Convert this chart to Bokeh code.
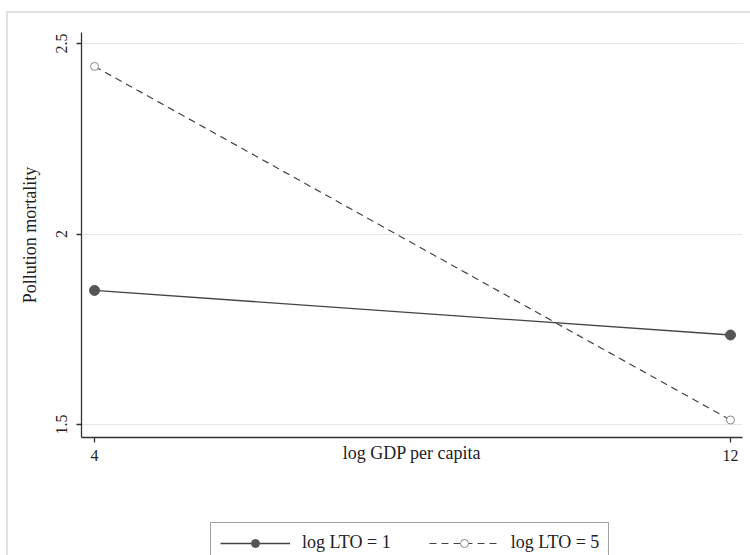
from bokeh.plotting import figure
from bokeh.layouts import column
from bokeh.models import Range1d, FixedTicker, Legend, LegendItem
from bokeh.embed import file_html
from bokeh.resources import INLINE

gdp = [4, 12]
lto1 = [1.852, 1.735]
lto5 = [2.44, 1.512]
x_ticks = [4, 12]
y_ticks = [1.5, 2, 2.5]
y_tick_labels = {1.5: "1.5", 2: "2", 2.5: "2.5"}
x_title = "log GDP per capita"
y_title = "Pollution mortality"
series_names = ["log LTO = 1", "log LTO = 5"]

FONT = "Liberation Serif"
FRAME = "#e2e2e2"
SOLID = dict(line_color="#444444", line_width=1.3)
DASHED = dict(line_color="#444444", line_width=1.2, line_dash="7 5")
FILLED = dict(size=10, marker="circle", fill_color="#555555", line_color="#555555")
HOLLOW = dict(size=8, marker="circle", fill_color="white", line_color="#888888", line_width=1)

p = figure(width=750, height=505, output_backend="svg", toolbar_location=None,
           x_range=Range1d(3.836, 12.151), y_range=Range1d(1.466, 2.529),
           min_border_left=81, min_border_right=8, min_border_top=32, min_border_bottom=68)
p.outline_line_color = None
p.background_fill_color = "white"
p.border_fill_alpha = 0

p.xgrid.visible = False
p.ygrid.ticker = FixedTicker(ticks=y_ticks)
p.ygrid.grid_line_color = "#e6e6e6"
p.ygrid.grid_line_width = 1

for ax in (p.xaxis[0], p.yaxis[0]):
    ax.axis_line_color = "#333333"
    ax.axis_line_width = 1.3
    ax.major_tick_line_color = "#333333"
    ax.major_tick_line_width = 1.3
    ax.major_tick_out = 5
    ax.major_tick_in = 0
    ax.minor_tick_line_color = None
    ax.major_label_text_font = FONT
    ax.major_label_text_font_size = "16px"
    ax.major_label_text_color = "#222222"
    ax.axis_label_text_font = FONT
    ax.axis_label_text_font_style = "normal"
    ax.axis_label_text_color = "#222222"

p.xaxis.ticker = FixedTicker(ticks=x_ticks)
p.xaxis.major_label_standoff = 7
p.xaxis.axis_label = x_title
p.xaxis.axis_label_text_font_size = "18px"
p.xaxis.axis_label_standoff = -21
p.yaxis.ticker = FixedTicker(ticks=y_ticks)
p.yaxis.major_label_overrides = y_tick_labels
p.yaxis.major_label_orientation = "vertical"
p.yaxis.major_label_standoff = 9
p.yaxis.axis_label = y_title
p.yaxis.axis_label_text_font_size = "18px"
p.yaxis.axis_label_standoff = 14

p.line(gdp, lto1, **SOLID)
p.scatter(gdp, lto1, **FILLED)
p.line(gdp, lto5, **DASHED)
p.scatter(gdp, lto5, **HOLLOW)

# legend strip below the graph (its frame is aligned with the graph's frame)
q = figure(width=750, height=50, output_backend="svg", toolbar_location=None,
           x_range=Range1d(0, 1), y_range=Range1d(0, 1),
           x_axis_location=None, y_axis_location=None,
           min_border_left=81, min_border_right=8, min_border_top=0, min_border_bottom=0)
q.grid.visible = False
q.outline_line_color = None
q.background_fill_alpha = 0
q.border_fill_alpha = 0
# same series; they fall outside this strip's ranges and only feed the legend keys
k1 = q.line(gdp, lto1, **SOLID)
s1 = q.scatter(gdp, lto1, **FILLED)
k2 = q.line(gdp, lto5, **DASHED)
s2 = q.scatter(gdp, lto5, **HOLLOW)
legend = Legend(items=[LegendItem(label=series_names[0], renderers=[k1, s1]),
                       LegendItem(label=series_names[1], renderers=[k2, s2])],
                orientation="horizontal", location=(129, -8),
                glyph_width=70, glyph_height=20, label_height=20, label_standoff=12,
                spacing=38, padding=9, margin=0,
                label_text_font=FONT, label_text_font_size="18px", label_text_color="#222222",
                border_line_color="#444444", border_line_width=1.5,
                background_fill_color="white", background_fill_alpha=1)
q.add_layout(legend, "center")

page = column(p, q, spacing=0)
page.styles = {
    "background": (f"linear-gradient({FRAME},{FRAME}) 6px 11px / 100% 2px no-repeat, "
                   f"linear-gradient({FRAME},{FRAME}) 6px 11px / 2px 100% no-repeat, white"),
}

open("out.html", "w").write(file_html(page, INLINE))
